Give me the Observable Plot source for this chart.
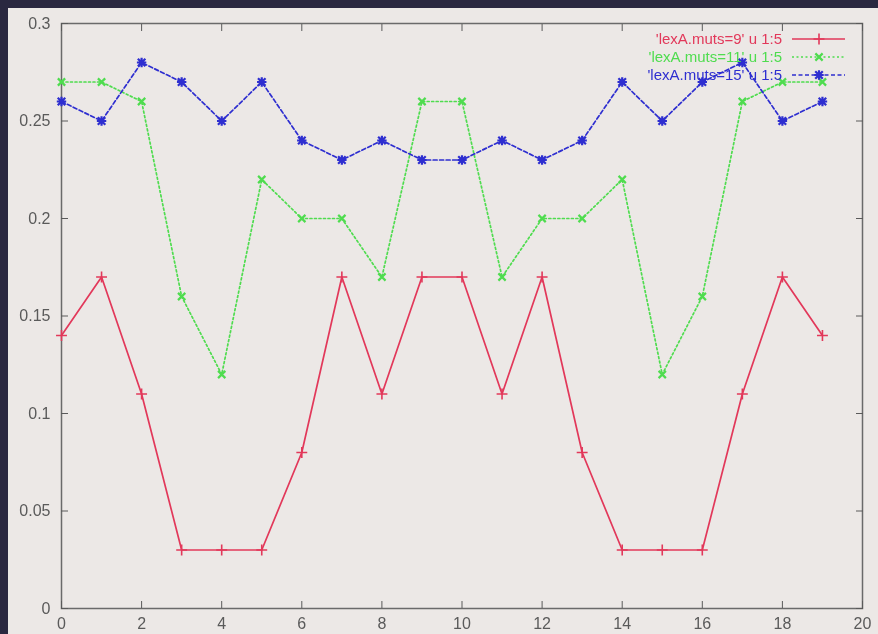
<!DOCTYPE html>
<html><head><meta charset="utf-8">
<script src="https://cdn.jsdelivr.net/npm/d3@7"></script>
<script src="https://cdn.jsdelivr.net/npm/@observablehq/plot@0.6"></script>
<style>
html,body{margin:0;padding:0;background:#2a2840;width:878px;height:634px;overflow:hidden}
#chart{position:absolute;left:8px;top:8px;width:870px;height:626px;background:#ece8e6}
#chart svg{display:block;background:#ece8e6;filter:blur(0.45px)}
</style></head><body><div id="chart"></div>
<script>
const xValues = [0,1,2,3,4,5,6,7,8,9,10,11,12,13,14,15,16,17,18,19];
const muts9  = [0.14,0.17,0.11,0.03,0.03,0.03,0.08,0.17,0.11,0.17,0.17,0.11,0.17,0.08,0.03,0.03,0.03,0.11,0.17,0.14];
const muts11 = [0.27,0.27,0.26,0.16,0.12,0.22,0.20,0.20,0.17,0.26,0.26,0.17,0.20,0.20,0.22,0.12,0.16,0.26,0.27,0.27];
const muts15 = [0.26,0.25,0.28,0.27,0.25,0.27,0.24,0.23,0.24,0.23,0.23,0.24,0.23,0.24,0.27,0.25,0.27,0.28,0.25,0.26];
const seriesNames = ["'lexA.muts=9' u 1:5", "'lexA.muts=11' u 1:5", "'lexA.muts=15' u 1:5"];
const seriesColors = ["#e2385a", "#4fdc4f", "#2e2ed0"];
const seriesDash = [null, "2,2.5", "4,2.5"];
const xTicks = [0,2,4,6,8,10,12,14,16,18,20];
const yTicks = [0,0.05,0.1,0.15,0.2,0.25,0.3];
const yTickLabels = ["0","0.05","0.1","0.15","0.2","0.25","0.3"];

// gnuplot-like "*" symbol (plus + cross)
const starSymbol = {
  draw(ctx, size) {
    const r = Math.sqrt(size) * 0.7;
    ctx.moveTo(-r, 0); ctx.lineTo(r, 0);
    ctx.moveTo(0, -r); ctx.lineTo(0, r);
    const d = r * 0.8;
    ctx.moveTo(-d, -d); ctx.lineTo(d, d);
    ctx.moveTo(-d, d); ctx.lineTo(d, -d);
  }
};
const symbols = ["plus", "times", starSymbol];
const symbolR = [3.6, 3.4, 3.8];

const allSeries = [muts9, muts11, muts15];
const rows = allSeries.map((vals, s) => xValues.map((x, i) => ({x, y: vals[i], s})));

const tickColor = "#5a5a5a";
const marks = [
  Plot.frame({stroke: "#6a6a6a", strokeWidth: 1.5}),
  Plot.axisX(xTicks, {anchor: "bottom", label: null, tickSize: -7, tickPadding: 16, fontSize: 16, color: tickColor, tickFormat: d => String(d)}),
  Plot.axisX(xTicks, {anchor: "top", label: null, tickSize: -7, tickFormat: () => "", color: tickColor}),
  Plot.axisY(yTicks, {anchor: "left", label: null, tickSize: -7, tickPadding: 18, fontSize: 16, color: tickColor, tickFormat: (d, i) => yTickLabels[i]}),
  Plot.axisY(yTicks, {anchor: "right", label: null, tickSize: -7, tickFormat: () => "", color: tickColor})
];
rows.forEach((r, s) => {
  marks.push(Plot.line(r, {x: "x", y: "y", stroke: seriesColors[s], strokeWidth: 1.7, strokeDasharray: seriesDash[s]}));
  marks.push(Plot.dot(r, {x: "x", y: "y", stroke: seriesColors[s], symbol: () => symbols[s], r: symbolR[s], strokeWidth: s === 0 ? 1.6 : 2.2}));
});

const plot = Plot.plot({
  width: 870, height: 626,
  marginLeft: 53, marginRight: 16, marginTop: 15, marginBottom: 26,
  style: {background: "#ece8e6", fontFamily: "'Liberation Sans', Arial, sans-serif"},
  x: {domain: [0, 20], axis: null},
  y: {domain: [0, 0.3], axis: null},
  symbol: {type: "identity"},
  marks
});
document.getElementById("chart").appendChild(plot);

// Legend (top-right inside plot)
const svg = d3.select(plot);
const rightEdge = 870 - 16;
const lg = svg.append("g").attr("font-family", "'Liberation Sans', Arial, sans-serif").attr("font-size", 15);
seriesNames.forEach((name, s) => {
  const y = 31 + s * 18;
  lg.append("text").attr("x", rightEdge - 80).attr("y", y).attr("dy", "0.35em")
    .attr("text-anchor", "end").attr("fill", seriesColors[s]).text(name);
  lg.append("line").attr("x1", rightEdge - 70).attr("x2", rightEdge - 17).attr("y1", y).attr("y2", y)
    .attr("stroke", seriesColors[s]).attr("stroke-width", 1.7).attr("stroke-dasharray", seriesDash[s]);
  const sym = d3.symbol().type(s === 0 ? d3.symbolPlus : s === 1 ? d3.symbolTimes : starSymbol).size(symbolR[s]*symbolR[s]*Math.PI);
  lg.append("path").attr("transform", `translate(${rightEdge - 43},${y})`).attr("d", sym())
    .attr("fill", "none").attr("stroke", seriesColors[s]).attr("stroke-width", s === 0 ? 1.6 : 2.2);
});
</script></body></html>
